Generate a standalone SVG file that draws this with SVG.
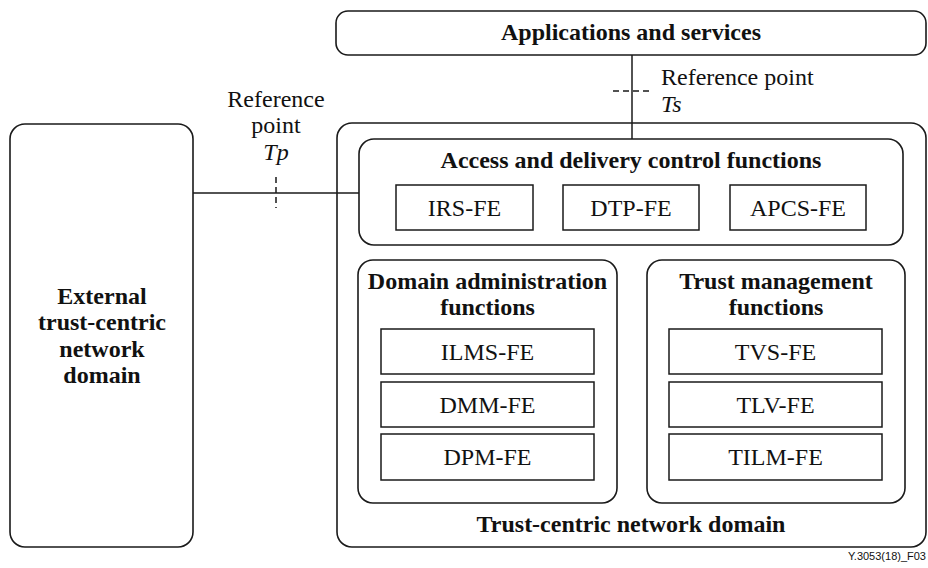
<svg xmlns="http://www.w3.org/2000/svg" width="928" height="568" viewBox="0 0 928 568">
<style>
.box{fill:#fff;stroke:#1a1a1a;stroke-width:1.6}
.fe{fill:#fff;stroke:#1a1a1a;stroke-width:1.5}
.ln{fill:none;stroke:#1a1a1a;stroke-width:1.5}
.dash{fill:none;stroke:#1a1a1a;stroke-width:1.5;stroke-dasharray:6 4}
.t{font-family:"Liberation Serif","Times New Roman",serif;font-size:24px;fill:#111;text-anchor:middle}
.b{font-weight:bold}
.i{font-style:italic}
.s{font-family:"Liberation Sans",Arial,sans-serif;font-size:11px;fill:#111;text-anchor:end}
</style>
<g id="external">
<rect class="box" x="10" y="124" width="183" height="423" rx="15"/>
<text class="t b" x="102" y="304">External</text>
<text class="t b" x="102" y="330">trust-centric</text>
<text class="t b" x="102" y="357">network</text>
<text class="t b" x="102" y="383">domain</text>
</g>
<g id="applications">
<rect class="box" x="336" y="11" width="590" height="44" rx="12"/>
<text class="t b" x="631" y="40">Applications and services</text>
</g>
<g id="tcn-domain">
<rect class="box" x="337" y="123" width="589" height="424" rx="15"/>
<text class="t b" x="631" y="532">Trust-centric network domain</text>
</g>
<g id="access">
<rect class="box" x="359" y="139" width="544" height="106" rx="15"/>
<text class="t b" x="631" y="168">Access and delivery control functions</text>
</g>
<g id="irs-fe"><rect class="fe" x="396" y="185" width="137" height="45"/><text class="t" x="464.5" y="216">IRS-FE</text></g>
<g id="dtp-fe"><rect class="fe" x="563" y="185" width="136" height="45"/><text class="t" x="631" y="216">DTP-FE</text></g>
<g id="apcs-fe"><rect class="fe" x="730" y="185" width="136" height="45"/><text class="t" x="798" y="216">APCS-FE</text></g>
<g id="domain-admin">
<rect class="box" x="358" y="260" width="259" height="243" rx="15"/>
<text class="t b" x="487.5" y="289">Domain administration</text>
<text class="t b" x="487.5" y="315">functions</text>
</g>
<g id="ilms-fe"><rect class="fe" x="381" y="329" width="213" height="45"/><text class="t" x="487.5" y="360">ILMS-FE</text></g>
<g id="dmm-fe"><rect class="fe" x="381" y="382" width="213" height="45"/><text class="t" x="487.5" y="413">DMM-FE</text></g>
<g id="dpm-fe"><rect class="fe" x="381" y="434" width="213" height="46"/><text class="t" x="487.5" y="465">DPM-FE</text></g>
<g id="trust-mgmt">
<rect class="box" x="647" y="260" width="258" height="243" rx="15"/>
<text class="t b" x="776" y="289">Trust management</text>
<text class="t b" x="776" y="315">functions</text>
</g>
<g id="tvs-fe"><rect class="fe" x="669" y="329" width="213" height="45"/><text class="t" x="775.5" y="360">TVS-FE</text></g>
<g id="tlv-fe"><rect class="fe" x="669" y="382" width="213" height="45"/><text class="t" x="775.5" y="413">TLV-FE</text></g>
<g id="tilm-fe"><rect class="fe" x="669" y="434" width="213" height="46"/><text class="t" x="775.5" y="465">TILM-FE</text></g>
<g id="connectors">
<line class="ln" x1="193" y1="193" x2="359" y2="193"/>
<line class="ln" x1="632" y1="55" x2="632" y2="139"/>
<line class="dash" x1="276" y1="177" x2="276" y2="208"/>
<line class="dash" x1="613" y1="91" x2="651" y2="91"/>
</g>
<g id="labels">
<text class="t" x="276" y="107">Reference</text>
<text class="t" x="276" y="133">point</text>
<text class="t i" x="276" y="160">Tp</text>
<text class="t" x="661" y="85" style="text-anchor:start">Reference point</text>
<text class="t i" x="661" y="112" style="text-anchor:start">Ts</text>
<text class="s" x="926" y="560">Y.3053(18)_F03</text>
</g>
</svg>
